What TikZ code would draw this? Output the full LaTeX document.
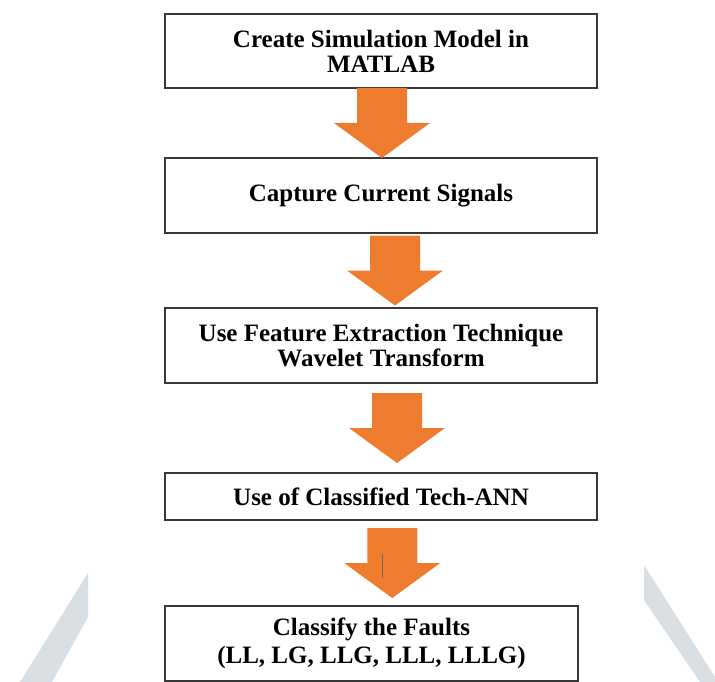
\documentclass[tikz,border=0pt]{standalone}
\usepackage{fontspec}
\setmainfont{Liberation Serif}
\usetikzlibrary{calc}
\definecolor{arroworange}{RGB}{238,124,46}
\definecolor{boxline}{RGB}{55,55,55}
\definecolor{wmgrey}{RGB}{217,223,227}
\tikzset{
  stage/.style={draw=boxline, line width=1.4pt, minimum width=432pt, inner sep=0pt,
    align=center, font=\bfseries\fontsize{25}{25}\selectfont},
  flow/.style={fill=arroworange},
  wmark/.style={fill=wmgrey}
}
% block arrow between two stages: from, to, x offset
\newcommand{\flowarrow}[3]{%
  \fill[flow] ($(#1.south)!.5!(#2.north)+(#3-25,-35)$) -- ++(50,0) -- ++(0,35)
    -- ++(23,0) -- ++(-48,35) -- ++(-48,-35) -- ++(23,0) -- cycle;}
\begin{document}
\begin{tikzpicture}[x=1pt,y=-1pt]
\useasboundingbox (0,0) rectangle (715,682);
%
\fill[wmark] (88,573) -- (88,617) -- (52,682) -- (20,682) -- cycle;
\fill[wmark] (644,565) -- (715,677) -- (715,682) -- (700,682) -- (644,600) -- cycle;
%
\node[stage, minimum height=74pt] (model) at (381,51) {Create Simulation Model in\\MATLAB};
\node[stage, minimum height=75pt] (capture) at (381,195.5) {Capture Current Signals};
\node[stage, minimum height=75pt] (feature) at (381,345.5) {Use Feature Extraction Technique\\Wavelet Transform};
\node[stage, minimum height=47pt] (ann) at (381,496.5) {Use of Classified Tech-ANN};
\node[stage, minimum height=75pt, minimum width=413pt, font=\bfseries\fontsize{25}{28}\selectfont] (faults) at (371.5,643.5) {Classify the Faults\\(LL, LG, LLG, LLL, LLLG)};
%
\flowarrow{model}{capture}{1}
\flowarrow{capture}{feature}{14}
\flowarrow{feature}{ann}{16}
\flowarrow{ann}{faults}{16}
%
\draw[black!60, line width=.9pt] ($(ann.south)+(1,33)$) -- ++(0,24);
\end{tikzpicture}
\end{document}
